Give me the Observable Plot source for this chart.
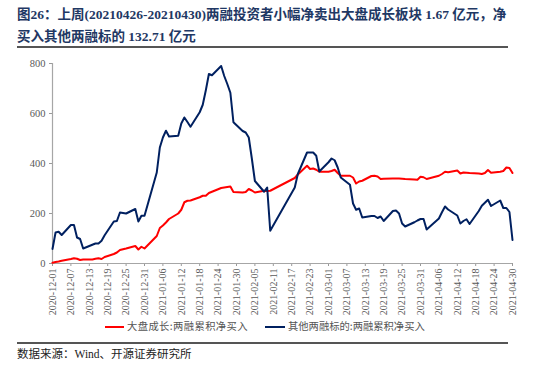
<!DOCTYPE html>
<html><head><meta charset="utf-8">
<script src="https://cdn.jsdelivr.net/npm/d3@7"></script>
<script src="https://cdn.jsdelivr.net/npm/@observablehq/plot@0.6"></script>
<style>
body{margin:0;background:#fff;width:550px;height:372px;position:relative;overflow:hidden;font-family:"Liberation Serif","Noto Sans CJK SC",serif;}
.title{position:absolute;left:17px;font-weight:bold;color:#1f3864;font-size:13.5px;white-space:nowrap;line-height:16px;}
.rule{position:absolute;left:17px;width:491px;height:1.5px;background:#555;}
#chart{position:absolute;left:0;top:50px;}
.leg{position:absolute;top:319px;font-size:10.3px;color:#555;white-space:nowrap;line-height:14px;font-family:"Noto Sans CJK SC",sans-serif;}
.sw{position:absolute;top:325.5px;height:2px;}
.src{position:absolute;left:17px;top:347px;font-size:11.5px;color:#222;white-space:nowrap;line-height:15px;}
</style></head>
<body>
<div class="title" style="top:7px">图26：上周(20210426-20210430)两融投资者小幅净卖出大盘成长板块 1.67 亿元，净</div>
<div class="title" style="top:29px">买入其他两融标的 132.71 亿元</div>
<div class="rule" style="top:46px"></div>
<div id="chart"></div>
<div class="sw" style="left:105px;width:19px;background:#ff0000"></div>
<div class="leg" style="left:127px;letter-spacing:0.4px">大盘成长:两融累积净买入</div>
<div class="sw" style="left:265px;width:20px;background:#002060"></div>
<div class="leg" style="left:288px">其他两融标的:两融累积净买入</div>
<div class="rule" style="top:342px"></div>
<div class="src">数据来源：Wind、开源证券研究所</div>
<script>
const dates = [
"2020-12-01","2020-12-02","2020-12-03","2020-12-04","2020-12-07","2020-12-08","2020-12-09","2020-12-10","2020-12-11",
"2020-12-14","2020-12-15","2020-12-16","2020-12-17","2020-12-18","2020-12-21","2020-12-22","2020-12-23","2020-12-24","2020-12-25",
"2020-12-28","2020-12-29","2020-12-30","2020-12-31",
"2021-01-04","2021-01-05","2021-01-06","2021-01-07","2021-01-08","2021-01-11","2021-01-12","2021-01-13","2021-01-14","2021-01-15",
"2021-01-18","2021-01-19","2021-01-20","2021-01-21","2021-01-22","2021-01-25","2021-01-26","2021-01-27","2021-01-28","2021-01-29",
"2021-02-01","2021-02-02","2021-02-03","2021-02-04","2021-02-05","2021-02-08","2021-02-09","2021-02-10",
"2021-02-18","2021-02-19","2021-02-22","2021-02-23","2021-02-24","2021-02-25","2021-02-26",
"2021-03-01","2021-03-02","2021-03-03","2021-03-04","2021-03-05","2021-03-08","2021-03-09","2021-03-10","2021-03-11","2021-03-12",
"2021-03-15","2021-03-16","2021-03-17","2021-03-18","2021-03-19","2021-03-22","2021-03-23","2021-03-24","2021-03-25","2021-03-26",
"2021-03-29","2021-03-30","2021-03-31",
"2021-04-01","2021-04-02","2021-04-06","2021-04-07","2021-04-08","2021-04-09","2021-04-12","2021-04-13","2021-04-14","2021-04-15","2021-04-16",
"2021-04-19","2021-04-20","2021-04-21","2021-04-22","2021-04-23","2021-04-26","2021-04-27","2021-04-28","2021-04-29","2021-04-30"
];
const largeGrowth = [
3,6,8,11,18,21,19,14,16,
16,19,21,18,26,38,44,54,57,60,
70,56,67,60,
110,142,152,164,178,200,215,245,251,252,
265,271,271,282,287,302,304,306,308,286,
284,286,298,292,284,291,290,291,
342,356,391,378,380,375,367,
367,370,375,362,351,351,344,320,328,331,
350,351,348,338,339,340,340,340,339,338,
336,335,347,
345,338,351,358,367,365,372,360,364,363,362,
360,358,362,374,363,367,370,384,382,362
];
const otherTargets = [
58,124,127,114,154,154,104,98,60,
75,80,80,91,113,168,170,204,202,200,
218,168,191,191,
364,464,504,531,508,511,560,584,566,547,
605,635,693,758,753,790,750,718,683,565,
530,524,504,420,330,287,304,131,
304,358,444,444,444,431,368,
405,420,413,384,344,315,240,215,220,184,
190,190,182,188,170,210,212,200,160,148,
165,172,178,
178,136,180,205,228,216,192,160,170,177,158,
210,231,243,255,230,252,222,222,206,94
];
const tickDates = ["2020-12-01","2020-12-07","2020-12-13","2020-12-19","2020-12-25","2020-12-31",
"2021-01-06","2021-01-12","2021-01-18","2021-01-24","2021-01-30","2021-02-05","2021-02-11","2021-02-17","2021-02-23",
"2021-03-01","2021-03-07","2021-03-13","2021-03-19","2021-03-25","2021-03-31",
"2021-04-06","2021-04-12","2021-04-18","2021-04-24","2021-04-30"];
const yTicks = [0,200,400,600,800];

const data = dates.map((d,i)=>({date:new Date(d), red:largeGrowth[i], blue:otherTargets[i]}));
const fmt = d3.utcFormat("%Y-%m-%d");
const chart = Plot.plot({
  width:550, height:268, marginLeft:52, marginRight:38, marginTop:13, marginBottom:55,
  style:{fontFamily:'"Liberation Serif", serif', fontSize:"10.5px", color:"#595959", background:"transparent", overflow:"visible"},
  x:{type:"utc", domain:[new Date("2020-12-01"), new Date("2021-04-30")]},
  y:{domain:[0,800]},
  marks:[
    Plot.axisY({ticks:yTicks, tickSize:3, tickPadding:4, label:null, tickFormat:d=>String(d), stroke:"#999"}),
    Plot.axisX({ticks:tickDates.map(d=>new Date(d)), tickFormat:fmt, tickRotate:-90, tickSize:3, tickPadding:2, label:null, stroke:"#999", fontSize:10}),
    Plot.ruleX([new Date("2020-12-01")], {stroke:"#a6a6a6", strokeWidth:1.2}),
    Plot.ruleY([0], {stroke:"#a6a6a6", strokeWidth:1.2}),
    Plot.line(data,{x:"date", y:"red", stroke:"#ff0000", strokeWidth:2}),
    Plot.line(data,{x:"date", y:"blue", stroke:"#002060", strokeWidth:2})
  ]
});
document.getElementById("chart").appendChild(chart);
</script>
</body></html>
